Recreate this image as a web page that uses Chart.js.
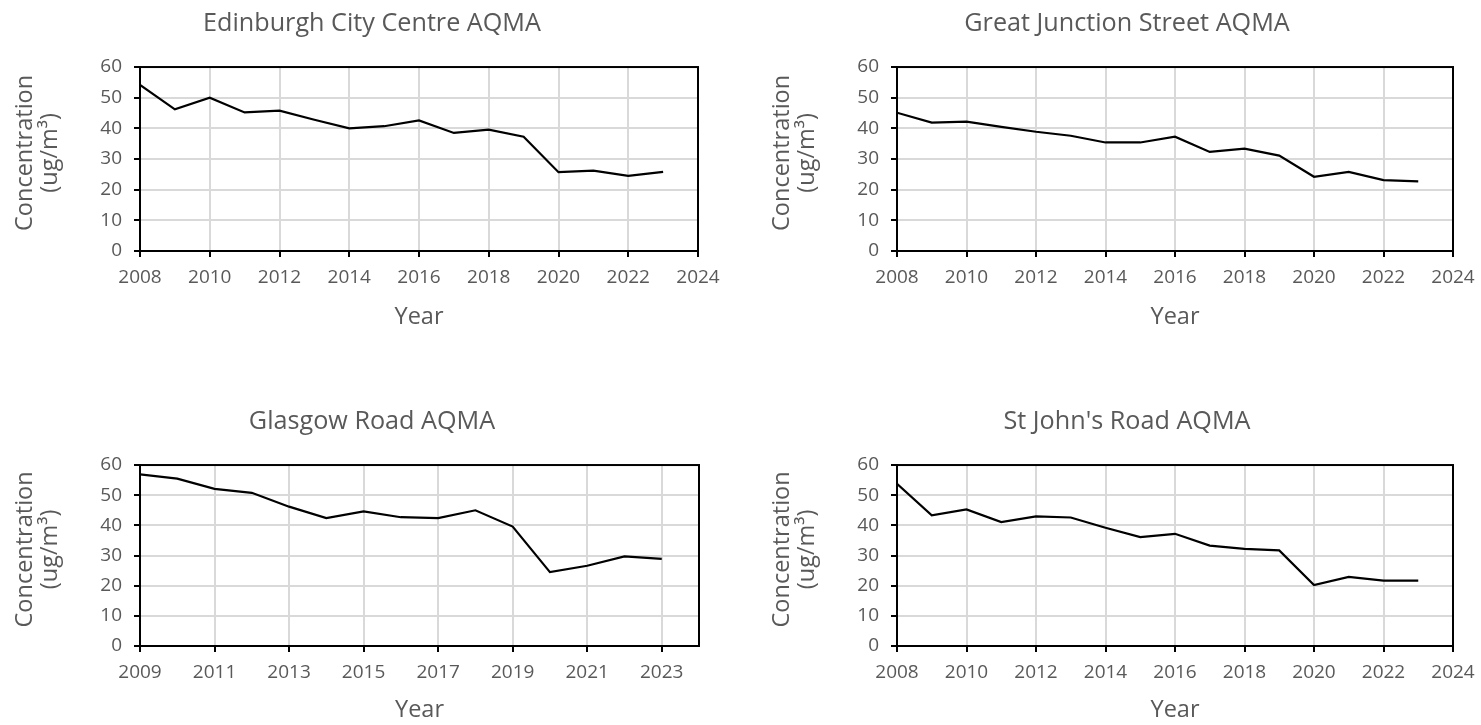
<!DOCTYPE html>
<html>
<head>
<meta charset="utf-8">
<title>AQMA annual mean concentrations</title>
<script src="https://cdn.jsdelivr.net/npm/chart.js@4/dist/chart.umd.min.js"></script>
<style>
  body { margin: 0; background: #fff; overflow: hidden; width: 1481px; height: 725px; position: relative; }
  canvas { position: absolute; }
</style>
</head>
<body>
<canvas id="c1" width="744" height="340" style="left:0;top:0"></canvas>
<canvas id="c2" width="740" height="340" style="left:757px;top:0"></canvas>
<canvas id="c3" width="744" height="335" style="left:0;top:398px"></canvas>
<canvas id="c4" width="740" height="335" style="left:757px;top:398px"></canvas>
<script>
// Years on each x axis
const years = [2008, 2009, 2010, 2011, 2012, 2013, 2014, 2015, 2016, 2017, 2018, 2019, 2020, 2021, 2022, 2023];
const yearsGlasgow = [2009, 2010, 2011, 2012, 2013, 2014, 2015, 2016, 2017, 2018, 2019, 2020, 2021, 2022, 2023];

// Tick labels
const xTicks = [2008, 2010, 2012, 2014, 2016, 2018, 2020, 2022, 2024];
const xTicksGlasgow = [2009, 2011, 2013, 2015, 2017, 2019, 2021, 2023];
const yTicks = [0, 10, 20, 30, 40, 50, 60];

// Concentration (ug/m3)
const edinburghCityCentre = [54.2, 46.2, 50.0, 45.2, 45.8, 42.8, 40.0, 40.7, 42.6, 38.5, 39.6, 37.3, 25.7, 26.2, 24.5, 25.8];
const greatJunctionStreet = [45.1, 41.9, 42.2, 40.5, 38.9, 37.6, 35.4, 35.4, 37.3, 32.3, 33.4, 31.1, 24.2, 25.8, 23.1, 22.7];
const glasgowRoad = [56.9, 55.5, 52.1, 50.8, 46.2, 42.4, 44.6, 42.7, 42.4, 45.0, 39.6, 24.5, 26.6, 29.7, 28.9];
const stJohnsRoad = [53.8, 43.3, 45.3, 41.1, 43.0, 42.6, 39.2, 36.1, 37.2, 33.3, 32.2, 31.7, 20.2, 22.9, 21.7, 21.7];

Chart.defaults.font.family = "'Open Sans', sans-serif";
Chart.defaults.color = '#595959';

// black box round the plot area
const framePlugin = {
    id: 'frame',
    afterDraw(chart) {
        const a = chart.chartArea;
        const ctx = chart.ctx;
        ctx.save();
        ctx.strokeStyle = '#000';
        ctx.lineWidth = 2;
        ctx.strokeRect(a.left, a.top, a.right - a.left, a.bottom - a.top);
        ctx.restore();
    }
};

function makeChart(id, title, xs, values, ticks, xMin, xMax, xAxisHeight, rightSpace) {
    const grid = { color: '#d9d9d9', lineWidth: 2, tickColor: '#000', tickLength: 6, tickWidth: 2 };
    const border = { color: '#000', width: 2 };
    return new Chart(document.getElementById(id), {
        type: 'line',
        data: {
            datasets: [{
                data: xs.map((x, i) => ({ x: x, y: values[i] })),
                borderColor: '#000',
                borderWidth: 2.2,
                pointRadius: 0,
                tension: 0,
                fill: false
            }]
        },
        options: {
            responsive: false,
            animation: false,
            devicePixelRatio: 1,
            layout: { padding: 0 },
            plugins: {
                legend: { display: false },
                tooltip: { enabled: false },
                title: {
                    display: true,
                    text: title,
                    color: '#595959',
                    font: { size: 25.2, weight: 'normal' },
                    padding: { top: 9, bottom: 27.8 }
                }
            },
            scales: {
                x: {
                    type: 'linear',
                    min: xMin,
                    max: xMax,
                    afterBuildTicks: s => { s.ticks = ticks.map(v => ({ value: v })); },
                    afterFit: s => { s.height = xAxisHeight; },
                    grid: grid,
                    border: border,
                    ticks: { font: { size: 19 }, padding: 9, maxRotation: 0, callback: v => String(v) },
                    title: { display: true, text: 'Year', font: { size: 23.5 }, padding: { top: 0, bottom: 9 } }
                },
                y: {
                    min: 0,
                    max: 60,
                    afterBuildTicks: s => { s.ticks = yTicks.map(v => ({ value: v })); },
                    afterFit: s => { s.width = 140; },
                    grid: grid,
                    border: border,
                    ticks: { font: { size: 19 }, padding: 12 },
                    title: {
                        display: true,
                        text: ['  Concentration', '  (ug/m³)'],
                        font: { size: 23.5, lineHeight: 1.08 },
                        padding: { top: 12.3, bottom: 0 }
                    }
                },
                // empty strip on the right so the title centres on the whole panel
                spare: {
                    position: 'right',
                    afterFit: s => { s.width = rightSpace; },
                    grid: { drawOnChartArea: false, drawTicks: false },
                    border: { display: false },
                    ticks: { display: false }
                }
            }
        },
        plugins: [framePlugin]
    });
}

makeChart('c1', 'Edinburgh City Centre AQMA', years, edinburghCityCentre, xTicks, 2008, 2024, 89, 46);
makeChart('c2', 'Great Junction Street AQMA', years, greatJunctionStreet, xTicks, 2008, 2024, 89, 44);
makeChart('c3', 'Glasgow Road AQMA', yearsGlasgow, glasgowRoad, xTicksGlasgow, 2009, 2024, 87, 45);
makeChart('c4', "St John's Road AQMA", years, stJohnsRoad, xTicks, 2008, 2024, 87, 44);
</script>
</body>
</html>
